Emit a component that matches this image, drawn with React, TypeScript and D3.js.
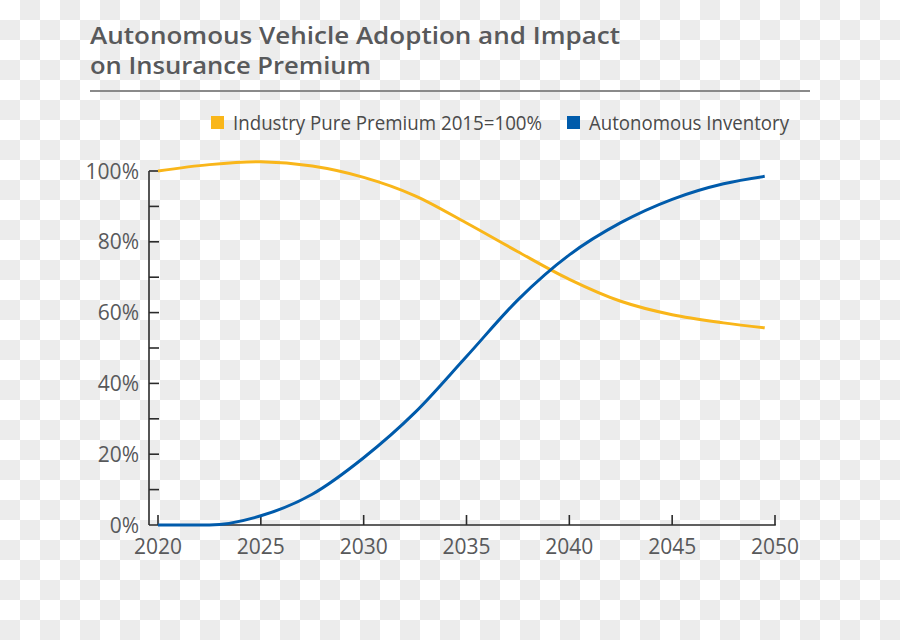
import * as React from 'react';
import * as d3 from 'd3';

const years = [2020, 2022.5, 2025, 2027.5, 2030, 2032.5, 2035, 2037.5, 2040, 2042.5, 2045, 2047.5, 2049.5];
const premium = [100, 101.8, 102.6, 101.4, 98.2, 93, 85.3, 77.2, 69.4, 63.2, 59.4, 57.1, 55.7];
const inventory = [0, 0, 2.6, 8.7, 19, 31.8, 47.6, 63.6, 76.3, 85.4, 92, 96.4, 98.5];

const xTicks = [2020, 2025, 2030, 2035, 2040, 2045, 2050];
const yTicks = [0, 20, 40, 60, 80, 100];
const yMinor = [10, 30, 50, 70, 90];

const seriesNames = ['Industry Pure Premium 2015=100%', 'Autonomous Inventory'];
const colors = ['#f9b61a', '#005bab'];

const W = 900;
const H = 640;
const FONT = '"Open Sans", sans-serif';

const draw = (el: SVGSVGElement) => {
	const svg = d3.select(el);
	svg.html('');

	// transparent-png checkerboard behind the chart
	const defs = svg.append('defs');
	const pat = defs.append('pattern')
		.attr('id', 'checker')
		.attr('width', 40).attr('height', 40)
		.attr('patternUnits', 'userSpaceOnUse');
	pat.append('rect').attr('width', 40).attr('height', 40).attr('fill', '#ffffff');
	pat.append('rect').attr('x', 20).attr('y', 0).attr('width', 20).attr('height', 20).attr('fill', '#ececec');
	pat.append('rect').attr('x', 0).attr('y', 20).attr('width', 20).attr('height', 20).attr('fill', '#ececec');
	svg.append('rect').attr('width', W).attr('height', H).attr('fill', 'url(#checker)');

	// title
	const title = svg.append('g')
		.attr('font-family', FONT)
		.attr('font-weight', 600)
		.attr('fill', '#58595b')
		.attr('font-size', 24);
	title.append('text').attr('x', 90).attr('y', 44)
		.attr('textLength', 530).attr('lengthAdjust', 'spacingAndGlyphs')
		.text('Autonomous Vehicle Adoption and Impact');
	title.append('text').attr('x', 90).attr('y', 74)
		.attr('textLength', 281).attr('lengthAdjust', 'spacingAndGlyphs')
		.text('on Insurance Premium');
	svg.append('line')
		.attr('x1', 90).attr('x2', 810).attr('y1', 91).attr('y2', 91)
		.attr('stroke', '#8a8a8a').attr('stroke-width', 2);

	// legend
	const legend = svg.append('g').attr('font-family', FONT).attr('font-size', 20).attr('fill', '#4a4a4a');
	const legX = [211, 567];
	const legLen = [309, 200];
	seriesNames.forEach((name, i) => {
		legend.append('rect')
			.attr('x', legX[i]).attr('y', 116).attr('width', 13).attr('height', 13)
			.attr('fill', colors[i]);
		legend.append('text')
			.attr('x', legX[i] + 22).attr('y', 130)
			.attr('textLength', legLen[i]).attr('lengthAdjust', 'spacingAndGlyphs')
			.text(name);
	});

	// scales
	const x = d3.scaleLinear().domain([2020, 2050]).range([158, 775]);
	const y = d3.scaleLinear().domain([0, 100]).range([525, 171]);
	const axisLeft = 149;

	const axes = svg.append('g').attr('stroke', '#2b2b2b').attr('stroke-width', 1.6);
	axes.append('line')
		.attr('x1', axisLeft).attr('x2', axisLeft)
		.attr('y1', y(100)).attr('y2', y(0));
	axes.append('line')
		.attr('x1', axisLeft).attr('x2', x(2050) + 0.8)
		.attr('y1', y(0)).attr('y2', y(0));
	axes.selectAll('.ytick')
		.data(yTicks.concat(yMinor).filter(d => d > 0))
		.enter().append('line')
		.attr('x1', axisLeft).attr('x2', axisLeft + 10)
		.attr('y1', d => y(d)).attr('y2', d => y(d));
	axes.selectAll('.xtick')
		.data(xTicks)
		.enter().append('line')
		.attr('x1', d => x(d)).attr('x2', d => x(d))
		.attr('y1', y(0)).attr('y2', y(0) - 10);

	const labels = svg.append('g').attr('font-family', FONT).attr('font-size', 21).attr('fill', '#58595b');
	labels.selectAll('.ylab')
		.data(yTicks)
		.enter().append('text')
		.attr('x', 139)
		.attr('y', d => y(d) + 7.5)
		.attr('text-anchor', 'end')
		.text(d => d + '%');
	labels.selectAll('.xlab')
		.data(xTicks)
		.enter().append('text')
		.attr('x', d => x(d))
		.attr('y', 554)
		.attr('text-anchor', 'middle')
		.text(d => d);

	// lines: catmull-rom for the premium, monotone for inventory so the flat start stays at 0
	const curves = [d3.curveCatmullRom.alpha(0.5), d3.curveMonotoneX];
	[premium, inventory].forEach((vals, i) => {
		const line = d3.line<number>()
			.x((d, j) => x(years[j]))
			.y(d => y(d))
			.curve(curves[i]);
		svg.append('path')
			.attr('d', line(vals))
			.attr('fill', 'none')
			.attr('stroke', colors[i])
			.attr('stroke-width', 3)
			.attr('stroke-linecap', 'butt');
	});
};

export default function App() {
	const ref = React.useRef<SVGSVGElement>(null);

	React.useEffect(() => {
		if (ref.current) draw(ref.current);
	}, []);

	return (
		<svg
			ref={ref}
			width={W}
			height={H}
			style={{position: 'absolute', left: 0, top: 0}}
		/>
	);
}
